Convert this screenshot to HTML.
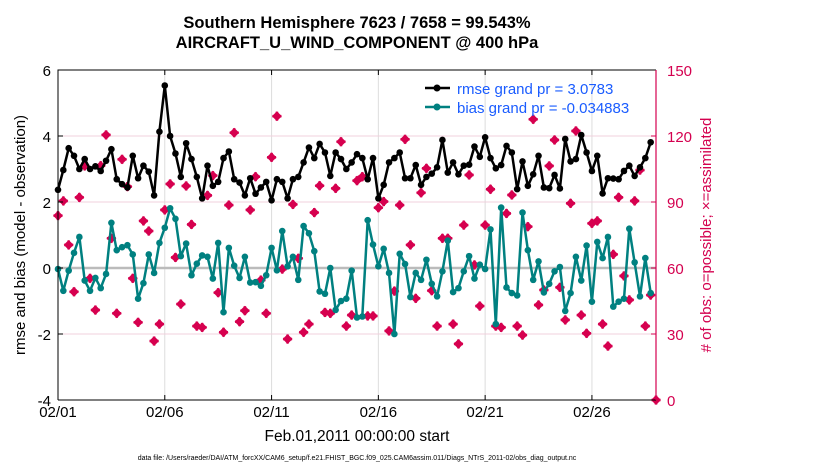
<!DOCTYPE html>
<html><head><meta charset="utf-8"><style>
body{margin:0;background:#fff;}
svg{font-family:"Liberation Sans",sans-serif;}
</style></head><body>
<svg id="chart" width="830" height="470" viewBox="0 0 830 470" xmlns="http://www.w3.org/2000/svg">
<text x="357" y="28" text-anchor="middle" font-size="16.5" font-weight="bold">Southern Hemisphere 7623 / 7658 = 99.543%</text>
<text x="357" y="48" text-anchor="middle" font-size="16.5" font-weight="bold">AIRCRAFT_U_WIND_COMPONENT @ 400 hPa</text>
<g id="grid"></g>
<g id="marks"></g>
<g id="axes"></g>
<g>
<line x1="425" y1="88" x2="450" y2="88" stroke="#000" stroke-width="2.5"/>
<circle cx="437" cy="88" r="3.5" fill="#000"/>
<text x="457" y="94" font-size="15" fill="#1a5cff">rmse grand pr = 3.0783</text>
<line x1="425" y1="107" x2="450" y2="107" stroke="#008080" stroke-width="2.5"/>
<circle cx="437" cy="107" r="3.5" fill="#008080"/>
<text x="457" y="113" font-size="15" fill="#1a5cff">bias grand pr = -0.034883</text>
</g>
<text x="357" y="441" text-anchor="middle" font-size="15.5">Feb.01,2011 00:00:00 start</text>
<text x="357" y="460" text-anchor="middle" font-size="7">data file: /Users/raeder/DAI/ATM_forcXX/CAM6_setup/f.e21.FHIST_BGC.f09_025.CAM6assim.011/Diags_NTrS_2011-02/obs_diag_output.nc</text>
<text transform="translate(25,235) rotate(-90)" text-anchor="middle" font-size="15">rmse and bias (model - observation)</text>
<text transform="translate(711,235) rotate(-90)" text-anchor="middle" font-size="15" fill="#d4004f"># of obs: o=possible; ×=assimilated</text>
</svg>
<script>
const xTickLabels=["02/01","02/06","02/11","02/16","02/21","02/26"];
const xTickDays=[0,5,10,15,20,25];
const yTicks=[6,4,2,0,-2,-4];
const yRightTicks=[150,120,90,60,30,0];
const rmse=[2.37,2.97,3.63,3.4,3.0,3.3,3.0,3.08,2.94,3.25,3.6,2.69,2.54,2.44,3.4,2.72,3.1,2.92,2.2,4.13,5.53,4.0,3.47,2.76,3.78,3.3,2.76,2.11,3.1,2.49,2.61,3.33,3.53,2.69,2.59,2.2,2.72,2.25,2.44,2.61,2.05,2.69,2.61,2.11,2.69,2.76,3.2,3.65,3.33,3.76,3.5,2.79,3.5,3.3,3.0,3.2,3.45,3.33,2.69,3.33,2.11,2.52,3.2,3.33,3.5,2.72,2.72,3.12,2.52,2.76,2.86,3.05,3.88,2.89,3.2,2.84,3.1,3.13,3.68,3.37,3.96,3.33,3.02,3.12,3.7,3.5,2.39,3.23,2.49,2.84,3.4,2.44,2.42,2.82,2.41,3.91,3.23,3.3,4.03,3.5,2.94,3.4,2.26,2.72,2.71,2.69,2.94,3.1,2.79,3.05,3.33,3.81];
const bias=[-0.03,-0.69,-0.08,0.46,0.94,-0.38,-0.69,-0.3,-0.61,-0.18,1.37,0.54,0.63,0.69,0.41,-0.93,-0.46,0.41,-0.15,0.76,1.22,1.81,1.49,0.36,0.74,-0.22,0.13,0.38,0.34,-0.32,0.76,-1.34,0.61,0.07,-0.3,0.34,-0.44,-0.43,-0.54,-0.22,0.61,-0.07,1.12,0.05,0.34,-0.36,1.27,1.05,0.51,-0.71,-0.78,0.0,-1.27,-1.0,-0.93,-0.08,-1.5,-1.47,1.45,0.71,0.05,0.58,-0.15,-2.0,0.43,0.12,-0.88,-0.15,-0.36,0.25,-0.48,-0.86,-0.1,0.83,-0.73,-0.61,-0.1,0.36,-0.32,0.1,-0.03,1.17,-1.7,1.83,-0.59,-0.76,-0.83,1.68,0.54,-0.36,0.2,-0.74,-0.48,-0.1,0.03,-1.3,-0.76,0.34,-0.38,0.68,-1.02,0.79,0.3,0.94,-1.17,-1.02,-0.93,1.19,0.17,-0.86,0.3,-0.76];
const obsCount=[83.8,90.5,70.5,49.2,92.1,106.4,55.3,40.9,106.5,120.5,73.5,39.4,109.4,97,55.3,35.3,81.4,76.8,26.8,34.5,86.4,98.2,64.8,43.6,97.3,79.8,33.6,33,93,102,48.8,30.8,88.6,121.5,35.6,40.6,86.4,101.5,54.5,39.4,110.3,129,59.5,27.7,88.9,64.4,30.8,34.5,85.2,97.4,39.8,39.4,96.2,117.4,33.6,38.6,99.7,101.5,38.2,38.2,87.4,90.2,31.4,49.5,88.6,118.5,70.5,46.2,94.2,105.3,49.7,33.6,73.5,73.5,34.5,25.5,79.5,102.3,61.4,42.7,79.5,95.8,33.6,33,84.8,93.2,33.6,29.5,78.8,127.6,43.2,50,106.4,118.2,51.2,36.4,89.4,122.3,38.6,30.3,80.3,81.4,34.5,24.5,66.2,92.1,56.4,45.5,90.5,104.5,33.6,47.7,0];
const X0=58,X1=656,Y0=70,Y1=400,DAYS=28;
const sx=d=>X0+(d/DAYS)*(X1-X0);
const sy=v=>Y1-(v+4)/10*(Y1-Y0);
const sr=c=>Y1-c/150*(Y1-Y0);
const NS="http://www.w3.org/2000/svg";
function mk(parent,tag,attrs){const e=document.createElementNS(NS,tag);for(const k in attrs)e.setAttribute(k,attrs[k]);parent.appendChild(e);return e;}
const grid=document.getElementById('grid'),marks=document.getElementById('marks'),axes=document.getElementById('axes');
xTickDays.forEach((d,i)=>{
 const l=mk(grid,'line',{x1:sx(d),x2:sx(d),y1:Y0,y2:Y1,stroke:'#ddd','stroke-width':1});
 
 
 const t=mk(axes,'text',{x:sx(d),y:417,'text-anchor':'middle','font-size':15});
 t.textContent=xTickLabels[i];
 
 
 mk(axes,'line',{x1:sx(d),x2:sx(d),y1:Y1,y2:Y1-5,stroke:'#000'});
 mk(axes,'line',{x1:sx(d),x2:sx(d),y1:Y0,y2:Y0+5,stroke:'#000'});
});
yRightTicks.forEach(c=>{
 if(c>0&&c<150){const l=mk(grid,'line',{x1:X0,x2:X1,y1:sr(c),y2:sr(c),stroke:'#f0d0dc','stroke-width':1});
 
 }
 const t=mk(axes,'text',{x:667,y:sr(c)+6,'font-size':15,fill:'#d4004f'});
 t.textContent=c;
 
 
 mk(axes,'line',{x1:X1,x2:X1-5,y1:sr(c),y2:sr(c),stroke:'#d4004f'});
});
yTicks.forEach(v=>{
 const t=mk(axes,'text',{x:51,y:sy(v)+6,'text-anchor':'end','font-size':15});
 t.textContent=v;
 
 
 mk(axes,'line',{x1:X0,x2:X0+5,y1:sy(v),y2:sy(v),stroke:'#000'});
});
const z=mk(grid,'line',{x1:X0,x2:X1,y1:sy(0),y2:sy(0),stroke:'#bbb','stroke-width':2.5});


mk(axes,'path',{d:`M${X0},${Y1}V${Y0}H${X1}`,fill:'none',stroke:'#000','stroke-width':1});
mk(axes,'line',{x1:X0,x2:X1,y1:Y1,y2:Y1,stroke:'#000','stroke-width':1});
mk(axes,'line',{x1:X1,x2:X1,y1:Y0,y2:Y1,stroke:'#d4004f','stroke-width':1.2});
obsCount.forEach((c,i)=>{
 const x=sx(i*0.25),y=sr(c);
 const g=mk(marks,'g',{fill:'#d6004f'});
 mk(g,'rect',{x:x-3.5,y:y-3.5,width:7,height:7,transform:`rotate(45 ${x} ${y})`});
 mk(g,'rect',{x:x-4.5,y:y-1.3,width:9,height:2.6});
 mk(g,'rect',{x:x-1.3,y:y-4.5,width:2.6,height:9});
 
 
});
function series(vals,color,name){
 const pts=vals.map((v,i)=>`${sx(i*0.25).toFixed(1)},${sy(v).toFixed(1)}`).join(' ');
 const p=mk(marks,'polyline',{points:pts,fill:'none',stroke:color,'stroke-width':2.5,'stroke-linejoin':'round'});
 
 
 vals.forEach((v,i)=>{
  const c=mk(marks,'circle',{cx:sx(i*0.25),cy:sy(v),r:3.3,fill:color});
  
  
 });
}
series(bias,'#008080','bias');
series(rmse,'#000','rmse');
</script>
</body></html>
